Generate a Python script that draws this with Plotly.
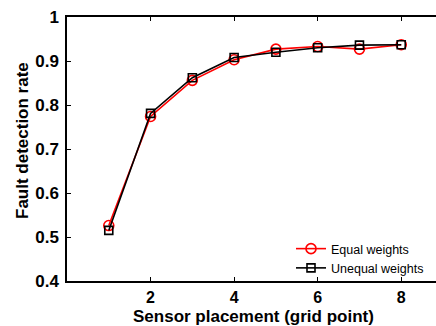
import plotly.graph_objects as go

# Sensor placement (grid point) vs. fault detection rate
placement = [1, 2, 3, 4, 5, 6, 7, 8]
equal_weights = [0.526, 0.774, 0.856, 0.903, 0.927, 0.933, 0.927, 0.937]
unequal_weights = [0.515, 0.781, 0.862, 0.908, 0.920, 0.930, 0.936, 0.937]
x_ticks = [2, 4, 6, 8]
y_ticks = [0.4, 0.5, 0.6, 0.7, 0.8, 0.9, 1.0]
y_tick_text = ["0.4", "0.5", "0.6", "0.7", "0.8", "0.9", "1"]

W, H = 436, 326
L, R, T, B = 67, 0, 17, 45
plot_w = W - L - R
plot_h = H - T - B

fig = go.Figure()
fig.add_trace(go.Scatter(
    x=placement, y=equal_weights, name="Equal weights",
    mode="lines+markers",
    line=dict(color="#ff0000", width=1.6),
    marker=dict(symbol="circle-open", size=10, color="#ff0000",
                line=dict(width=1.6, color="#ff0000")),
))
fig.add_trace(go.Scatter(
    x=placement, y=unequal_weights, name="Unequal weights",
    mode="lines+markers",
    line=dict(color="#000000", width=1.6),
    marker=dict(symbol="square-open", size=8, color="#000000",
                line=dict(width=1.6, color="#000000")),
))

font_family = "Liberation Sans, Arial, sans-serif"
x_tick_font = dict(family=font_family, size=16, color="#000000", weight="bold")
y_tick_font = dict(family=font_family, size=17, color="#000000", weight="bold")
title_font = dict(family=font_family, size=17, color="#000000", weight="bold")

fig.update_layout(
    width=W, height=H,
    margin=dict(l=L, r=R, t=T, b=B, pad=0),
    paper_bgcolor="white", plot_bgcolor="white",
    showlegend=True,
    legend=dict(
        x=(291 - L) / plot_w, xanchor="left",
        y=(281 - 234) / plot_h, yanchor="top",
        bgcolor="rgba(0,0,0,0)", borderwidth=0,
        font=dict(family=font_family, size=12.5, color="#000000"),
        tracegroupgap=0,
    ),
    xaxis=dict(
        range=[0, (W - L) / 41.78], tickvals=x_ticks,
        ticks="inside", ticklen=4, tickwidth=1, tickcolor="#000000",
        showline=True, linecolor="#000000", linewidth=1.5,
        mirror="ticks", showgrid=False, zeroline=False,
        tickfont=x_tick_font, ticklabelstandoff=1,
    ),
    yaxis=dict(
        range=[0.4, 1.0], tickvals=y_ticks, ticktext=y_tick_text,
        ticks="inside", ticklen=4, tickwidth=1, tickcolor="#000000",
        showline=True, linecolor="#000000", linewidth=1.5,
        mirror=False, showgrid=False, zeroline=False,
        tickfont=y_tick_font, ticklabelstandoff=3,
    ),
    annotations=[
        dict(text="Sensor placement (grid point)", xref="paper", yref="paper",
             x=(253 - L) / plot_w, y=0, xanchor="center", yanchor="middle",
             yshift=-35, showarrow=False, font=title_font),
        dict(text="Fault detection rate", xref="paper", yref="paper",
             x=0, y=(281 - 141) / plot_h, xanchor="center", yanchor="middle",
             xshift=-45, textangle=-90, showarrow=False, font=title_font),
    ],
)

fig.write_html("out.html")
